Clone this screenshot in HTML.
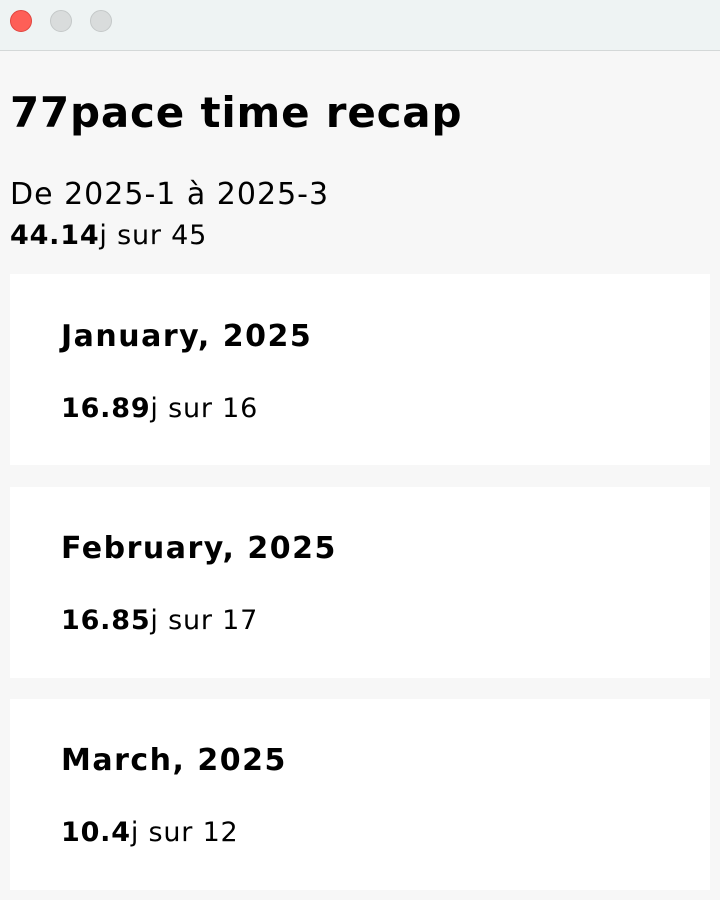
<!DOCTYPE html>
<html><head><meta charset="utf-8"><style>
html,body{margin:0;padding:0;width:720px;height:900px;overflow:hidden;background:#f7f7f7;font-family:"DejaVu Sans","Liberation Sans",sans-serif;color:#000}
.bar{position:absolute;left:0;top:0;width:720px;height:50px;background:#eef3f3;border-bottom:1px solid #d4d8d8}
.dot{position:absolute;top:10px;width:22px;height:22px;border-radius:50%;box-sizing:border-box}
.t{position:absolute;white-space:nowrap;line-height:1}
.card{position:absolute;left:10px;width:700px;height:191px;background:#fff}
.h{left:51px;font-size:30px;font-weight:bold;letter-spacing:1.5px}
.v{left:51px;font-size:27px;letter-spacing:0.8px}
</style></head><body>
<div class="bar">
<div class="dot" style="left:10px;background:#fe5f57;border:1px solid #e0443e"></div>
<div class="dot" style="left:50px;background:#d9dcdc;border:1px solid #c4c8c8"></div>
<div class="dot" style="left:90px;background:#d9dcdc;border:1px solid #c4c8c8"></div>
</div>
<div class="t" style="left:10px;top:92px;font-size:42px;font-weight:bold;letter-spacing:0.8px">77pace time recap</div>
<div class="t" style="left:10px;top:180px;font-size:30px;letter-spacing:1px">De 2025-1 à 2025-3</div>
<div class="t" style="left:10px;top:222px;font-size:27px;letter-spacing:0.8px"><b>44.14</b>j sur 45</div>

<div class="card" style="top:274px">
<div class="t h" style="top:48px">January, 2025</div>
<div class="t v" style="top:121px"><b>16.89</b>j sur 16</div>
</div>
<div class="card" style="top:487px">
<div class="t h" style="top:47px">February, 2025</div>
<div class="t v" style="top:120px"><b>16.85</b>j sur 17</div>
</div>
<div class="card" style="top:699px">
<div class="t h" style="top:47px">March, 2025</div>
<div class="t v" style="top:120px"><b>10.4</b>j sur 12</div>
</div>
</body></html>
